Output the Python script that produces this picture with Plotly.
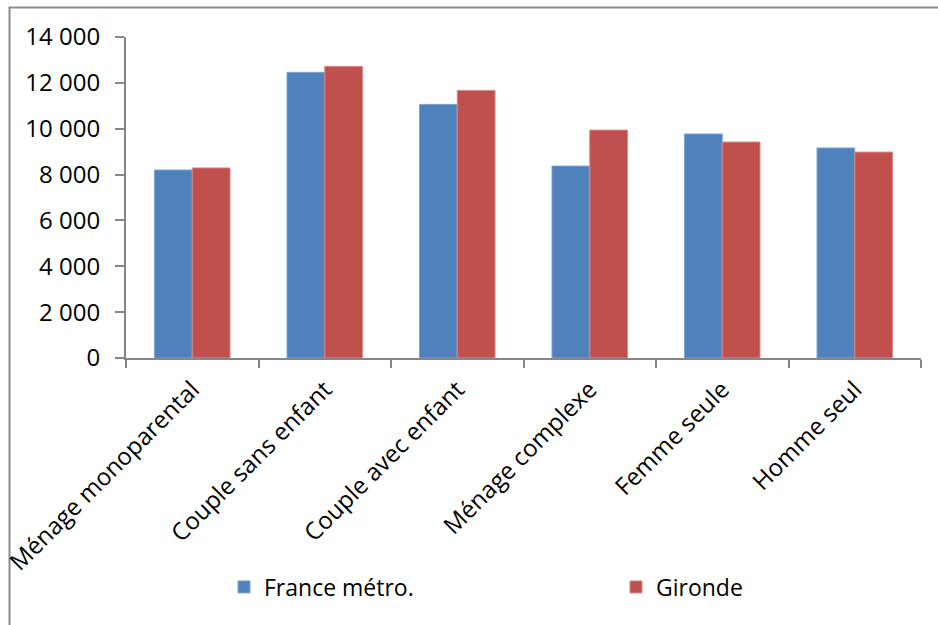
import plotly.graph_objects as go

categories = ["Ménage monoparental", "Couple sans enfant", "Couple avec enfant",
              "Ménage complexe", "Femme seule", "Homme seul"]
france = [8200, 12460, 11060, 8370, 9770, 9160]
gironde = [8290, 12720, 11670, 9940, 9420, 8980]
y_ticks = [0, 2000, 4000, 6000, 8000, 10000, 12000, 14000]

W, H = 938, 625
L, R, T, B = 126, 17, 37, 267
pw, ph = W - L - R, H - T - B

def px(x):
    return (x - L) / pw

def py(y):
    return (H - B - y) / ph

FONT = "Open Sans"

fig = go.Figure()
fig.add_trace(go.Bar(name="France métro.", x=categories, y=france, legend="legend",
                     marker=dict(color="#4F81BD", line=dict(color="#7FA3D1", width=1))))
fig.add_trace(go.Bar(name="Gironde", x=categories, y=gironde, legend="legend2",
                     marker=dict(color="#C0504D", line=dict(color="#D88A88", width=1))))

fig.update_layout(
    width=W, height=H,
    margin=dict(l=L, r=R, t=T, b=B, autoexpand=False),
    paper_bgcolor="white", plot_bgcolor="white",
    font=dict(family=FONT, size=23, color="black"),
    separators=", ",
    barmode="group", bargap=0.43, bargroupgap=0,
    showlegend=True,
    legend=dict(orientation="h", x=px(224), y=py(587), xanchor="left", yanchor="middle",
                font=dict(family=FONT, size=23), bgcolor="rgba(0,0,0,0)"),
    legend2=dict(orientation="h", x=px(616), y=py(587), xanchor="left", yanchor="middle",
                 font=dict(family=FONT, size=23), bgcolor="rgba(0,0,0,0)"),
    xaxis=dict(showline=True, linecolor="#868686", linewidth=2, automargin=False,
               ticks="outside", tickson="boundaries", ticklen=8, tickcolor="#868686",
               tickwidth=2, tickangle=-45, showgrid=False, ticklabelstandoff=6,
               tickfont=dict(family=FONT, size=24)),
    yaxis=dict(range=[0, 14000], tickvals=y_ticks, tickformat=",.0f", automargin=False,
               showline=True, linecolor="#868686", linewidth=2,
               ticks="outside", ticklen=9, tickcolor="#868686", tickwidth=2,
               showgrid=False, zeroline=False, ticklabelstandoff=10,
               tickfont=dict(family=FONT, size=24)),
    shapes=[dict(type="rect", xref="paper", yref="paper",
                 x0=px(9.5), x1=px(960), y0=py(660), y1=py(7.5),
                 line=dict(color="#8C8C8C", width=2), fillcolor="rgba(0,0,0,0)", layer="below")],
)

fig.write_html("out.html")
